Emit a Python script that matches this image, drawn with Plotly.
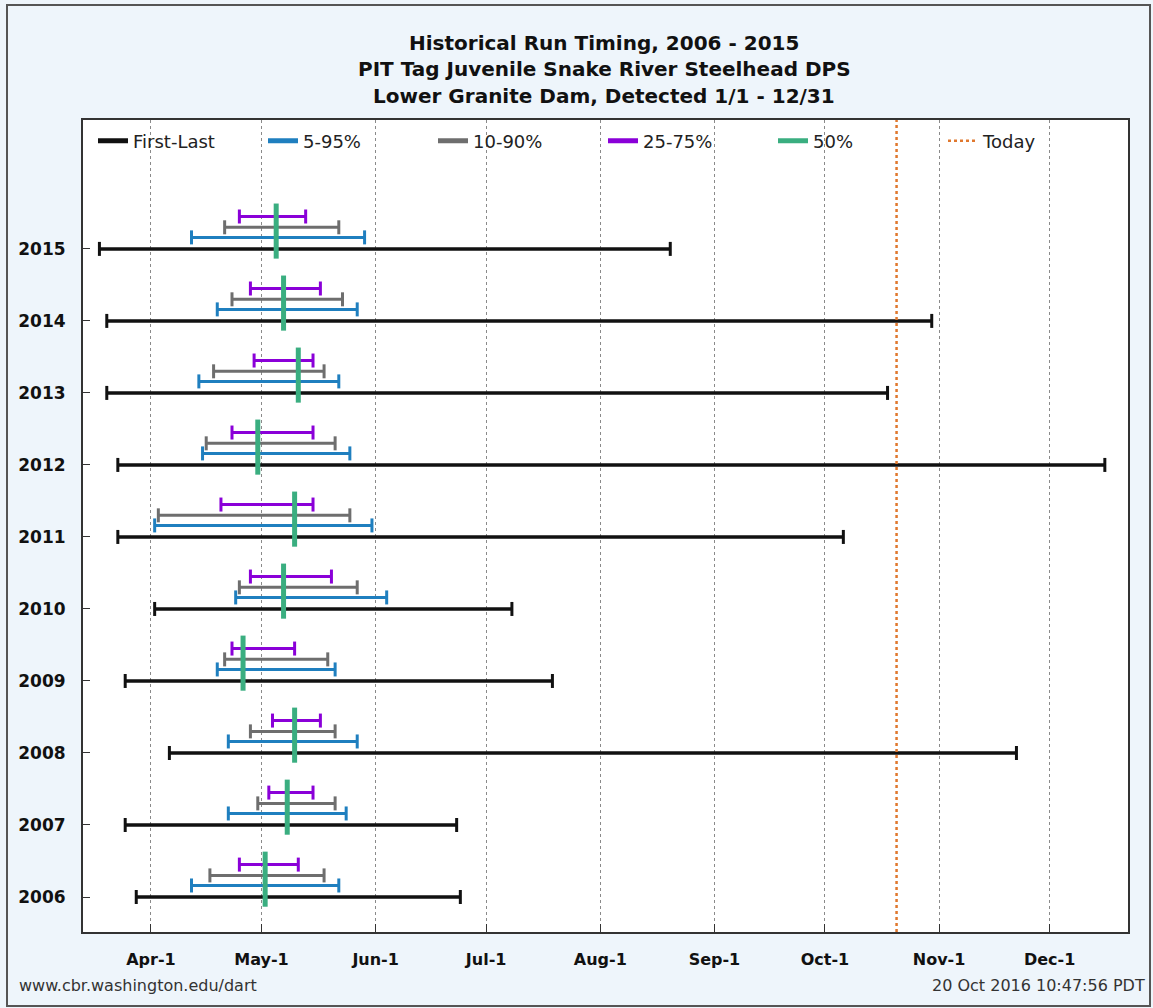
import plotly.graph_objects as go

# Run-timing percentiles by year (month-day, plotted on a common calendar year)
years = [2006, 2007, 2008, 2009, 2010, 2011, 2012, 2013, 2014, 2015]
first_det = ["03-28", "03-25", "04-06", "03-25", "04-02", "03-23", "03-23", "03-20", "03-20", "03-18"]
last_det = ["06-24", "06-23", "11-22", "07-19", "07-08", "10-06", "12-16", "10-18", "10-30", "08-20"]
p05 = ["04-12", "04-22", "04-22", "04-19", "04-24", "04-02", "04-15", "04-14", "04-19", "04-12"]
p95 = ["05-22", "05-24", "05-27", "05-21", "06-04", "05-31", "05-25", "05-22", "05-27", "05-29"]
p10 = ["04-17", "04-30", "04-28", "04-21", "04-25", "04-03", "04-16", "04-18", "04-23", "04-21"]
p90 = ["05-18", "05-21", "05-21", "05-19", "05-27", "05-25", "05-21", "05-18", "05-23", "05-22"]
p25 = ["04-25", "05-03", "05-04", "04-23", "04-28", "04-20", "04-23", "04-29", "04-28", "04-25"]
p75 = ["05-11", "05-15", "05-17", "05-10", "05-20", "05-15", "05-15", "05-15", "05-17", "05-13"]
p50 = ["05-02", "05-08", "05-10", "04-26", "05-07", "05-10", "04-30", "05-11", "05-07", "05-05"]
today = "10-20 10:47"

series_names = ["First-Last", "5-95%", "10-90%", "25-75%", "50%", "Today"]
colors = ["#111111", "#1f7fbf", "#6e6e6e", "#8a00d8", "#3aae80", "#e0782e"]

BASE_YEAR = "2015-"


def to_date(md):
    return BASE_YEAR + md


def hbars(starts, ends, dy):
    xs, ys = [], []
    for yr, a, b in zip(years, starts, ends):
        xs += [to_date(a), to_date(b), None]
        ys += [yr + dy, yr + dy, None]
    return xs, ys


fig = go.Figure()

# horizontal ranges, each stacked a little above the year baseline
ranges = [
    (first_det, last_det, 0.0, colors[0], 3.5),
    (p05, p95, 0.16, colors[1], 3),
    (p10, p90, 0.30, colors[2], 3),
    (p25, p75, 0.45, colors[3], 3),
]
for lo, hi, dy, c, w in ranges:
    xs, ys = hbars(lo, hi, dy)
    fig.add_trace(go.Scatter(
        x=xs, y=ys, mode="lines+markers", showlegend=False, hoverinfo="skip",
        line=dict(color=c, width=w),
        marker=dict(symbol="line-ns", size=10, color=c, line=dict(color=c, width=3)),
    ))

# median as a vertical bar across the stacked ranges
mx, my = [], []
for yr, m in zip(years, p50):
    mx += [to_date(m), to_date(m), None]
    my += [yr - 0.135, yr + 0.63, None]
fig.add_trace(go.Scatter(x=mx, y=my, mode="lines", showlegend=False, hoverinfo="skip",
                         line=dict(color=colors[4], width=5)))

# today marker
fig.add_shape(type="line", xref="x", yref="paper", x0=to_date(today), x1=to_date(today),
              y0=0, y1=1, line=dict(color=colors[5], width=2.5, dash="dot"), layer="above")

# legend entries
for i, name in enumerate(series_names):
    fig.add_trace(go.Scatter(
        x=[None], y=[None], mode="lines", name=name,
        line=dict(color=colors[i], width=2.5 if i == 5 else 5, dash="dot" if i == 5 else "solid"),
    ))

title_lines = [
    "Historical Run Timing, 2006 - 2015",
    "PIT Tag Juvenile Snake River Steelhead DPS",
    "Lower Granite Dam, Detected 1/1 - 12/31",
]
title_y = [43, 69, 96]
L, R, T, B = 83, 1128, 120, 932
W, H = 1153, 1008


def px_x(px):
    return (px - L) / (R - L)


def px_y(py):
    return (B - py) / (B - T)


annotations = []
for txt, py in zip(title_lines, title_y):
    annotations.append(dict(text=txt, xref="paper", yref="paper", x=px_x(604), y=px_y(py),
                            xanchor="center", yanchor="middle", showarrow=False,
                            font=dict(family="DejaVu Sans", size=20, color="#111111", weight="bold")))
annotations.append(dict(text="www.cbr.washington.edu/dart", xref="paper", yref="paper",
                        x=px_x(17), y=px_y(985), xanchor="left", yanchor="middle", showarrow=False,
                        font=dict(family="DejaVu Sans", size=16, color="#333333")))
annotations.append(dict(text="20 Oct 2016 10:47:56 PDT", xref="paper", yref="paper",
                        x=px_x(1147), y=px_y(985), xanchor="right", yanchor="middle", showarrow=False,
                        font=dict(family="DejaVu Sans", size=16, color="#333333")))

# outer frame of the page
fig.add_shape(type="rect", xref="paper", yref="paper",
              x0=px_x(7), x1=px_x(1150), y0=px_y(1006), y1=px_y(5),
              line=dict(color="#555555", width=2), fillcolor="rgba(0,0,0,0)", layer="below")

fig.update_layout(
    width=W, height=H,
    margin=dict(l=L, r=W - R, t=T, b=H - B),
    paper_bgcolor="#eef5fb",
    plot_bgcolor="#ffffff",
    font=dict(family="DejaVu Sans", color="#111111"),
    annotations=annotations,
    legend=dict(orientation="h", x=px_x(93), y=px_y(141), xanchor="left", yanchor="middle",
                bgcolor="rgba(0,0,0,0)", font=dict(size=18, color="#222222"),
                entrywidth=125, entrywidthmode="pixels", itemwidth=30,
                traceorder="normal"),
    xaxis=dict(
        type="date", range=["2015-03-13 13:00", "2015-12-22 07:00"],
        tick0="2015-01-01", dtick="M1", tickformat="%b-%-d",
        ticks="inside", ticklen=8, tickcolor="#333333", tickwidth=1,
        showgrid=True, gridcolor="#8a8a8a", griddash="dot", gridwidth=1,
        showline=True, linecolor="#333333", linewidth=2, mirror=True,
        tickfont=dict(size=16, weight="bold", color="#111111"),
        ticklabelstandoff=12, zeroline=False,
    ),
    yaxis=dict(
        range=[2005.514, 2016.79],
        tickvals=years, ticktext=[str(y) for y in years],
        ticks="inside", ticklen=7, tickcolor="#333333", tickwidth=1,
        showgrid=False, zeroline=False,
        showline=True, linecolor="#333333", linewidth=2, mirror=True,
        tickfont=dict(size=17, weight="bold", color="#111111"),
        ticklabelstandoff=12,
    ),
)

fig.write_html("out.html")
